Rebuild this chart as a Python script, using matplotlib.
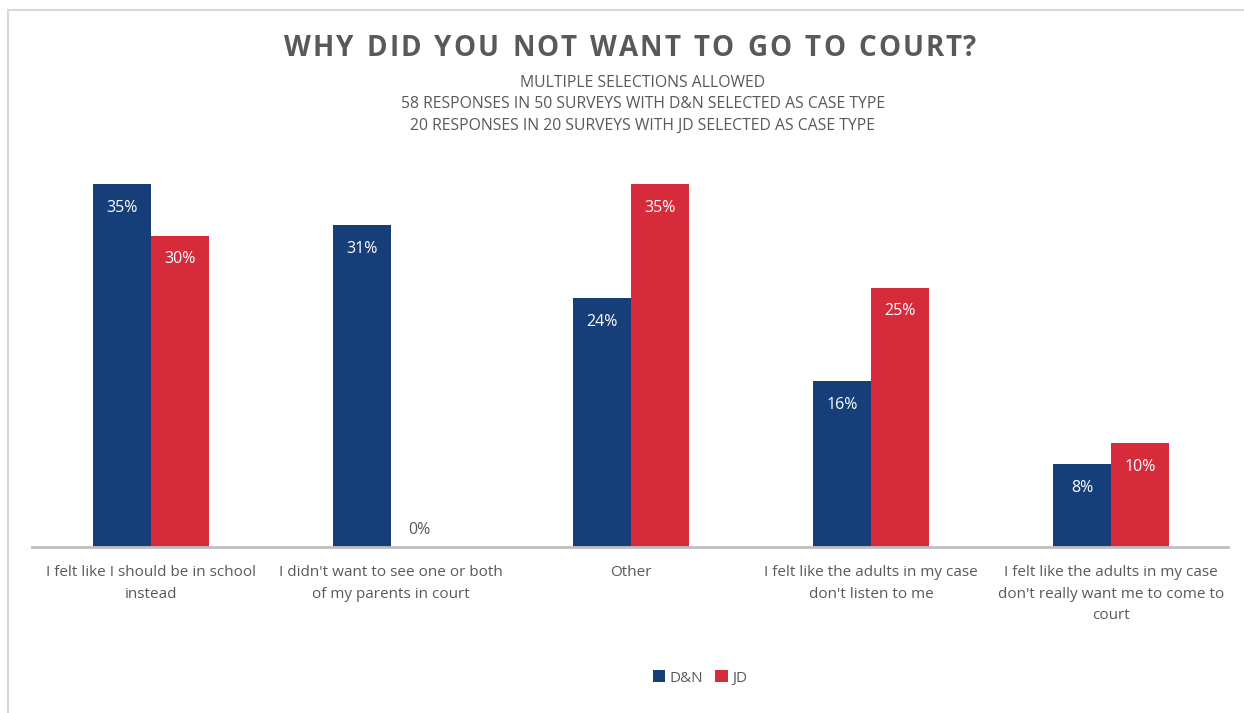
import numpy as np
import matplotlib.pyplot as plt
from matplotlib.lines import Line2D

categories = ["I felt like I should be in school\ninstead",
              "I didn't want to see one or both\nof my parents in court",
              "Other",
              "I felt like the adults in my case\ndon't listen to me",
              "I felt like the adults in my case\ndon't really want me to come to\ncourt"]
dn = [35, 31, 24, 16, 8]
jd = [30, 0, 35, 25, 10]
series = ["D&N", "JD"]

BLUE = "#163f7a"
RED = "#d62b3a"
GRAY = "#595959"

plt.rcParams['font.family'] = ['Open Sans', 'DejaVu Sans']

W, H = 1244, 713
fig = plt.figure(figsize=(W / 100, H / 100), dpi=100)

# plot area placed in pixels
left, right, base, top = 32, 1228, 547, 165
ax = fig.add_axes([left / W, (H - base) / H, (right - left) / W, (base - top) / H])

x = np.arange(len(categories))
w = 0.24
b1 = ax.bar(x - w / 2, dn, w, color=BLUE, label=series[0])
b2 = ax.bar(x + w / 2, jd, w, color=RED, label=series[1])

ymax = (base - top) / ((base - 184) / 35)
ax.set_ylim(0, ymax)
ax.set_xlim(-0.496, -0.496 + (right - left) / 240)

for bars, vals in [(b1, dn), (b2, jd)]:
    for r, v in zip(bars, vals):
        cx = r.get_x() + r.get_width() / 2
        if v > 3:
            ax.annotate(f"{v}%", (cx, v), xytext=(0, -17), textcoords='offset points',
                        ha='center', va='center', color='white', fontsize=11.5)
        else:
            ax.annotate(f"{v}%", (cx, v), xytext=(0, 12), textcoords='offset points',
                        ha='center', va='center', color=GRAY, fontsize=11.5)

for s in ['top', 'right', 'left']:
    ax.spines[s].set_visible(False)
ax.spines['bottom'].set_color('#bfbfbf')
ax.spines['bottom'].set_linewidth(2)
ax.set_yticks([])
ax.set_xticks(x)
ax.set_xticklabels(categories, fontsize=11, color=GRAY, linespacing=1.6)
ax.tick_params(axis='x', length=0, pad=13)

# title with letter spacing, drawn char by char
title = "WHY DID YOU NOT WANT TO GO TO COURT?"
track = 1.9
renderer = fig.canvas.get_renderer()
widths = []
for ch in title:
    t = fig.text(0, 0, ch if ch != " " else "I", fontsize=20, fontweight='bold')
    wpx = t.get_window_extent(renderer).width
    if ch == " ":
        wpx *= 1.05
    widths.append(wpx)
    t.remove()
total = sum(widths) + track * (len(title) - 1)
xpos = 630 - total / 2
for ch, wpx in zip(title, widths):
    if ch != " ":
        fig.text(xpos / W, 1 - 48 / H, ch, ha='left', va='center',
                 fontsize=20, fontweight='bold', color=GRAY)
    xpos += wpx + track

subtitle = ["MULTIPLE SELECTIONS ALLOWED",
            "58 RESPONSES IN 50 SURVEYS WITH D&N SELECTED AS CASE TYPE",
            "20 RESPONSES IN 20 SURVEYS WITH JD SELECTED AS CASE TYPE"]
for i, line in enumerate(subtitle):
    fig.text(643 / W, 1 - (83 + 21.5 * i) / H, line, ha='center', va='center',
             fontsize=11.3, color=GRAY)

fig.legend(handles=[b1, b2], labels=series, loc='center', bbox_to_anchor=(700 / W, 1 - 678 / H),
           ncol=2, frameon=False, fontsize=11, labelcolor=GRAY, handlelength=0.8,
           handleheight=0.8, handletextpad=0.3, columnspacing=0.8)

# light frame lines (top and left)
fig.add_artist(Line2D([8 / W, 8 / W], [0, 1 - 10 / H], color='#d9d9d9', lw=1.5))
fig.add_artist(Line2D([8 / W, 1], [1 - 10 / H, 1 - 10 / H], color='#d9d9d9', lw=1.5))

fig.savefig("out.png", dpi=100, facecolor='white')
